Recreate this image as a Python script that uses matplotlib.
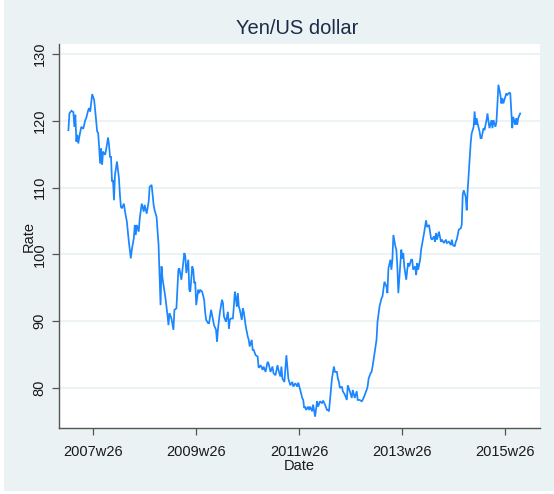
import matplotlib
matplotlib.use("Agg")
import matplotlib.pyplot as plt
from matplotlib.patches import Rectangle
import numpy as np

# Stata weekly dates (weeks since 1960w1) and yen per US dollar
weeks = [
    2444, 2445, 2447, 2449, 2450, 2451, 2452, 2453, 2454, 2455, 2457, 2459, 2461, 2462, 2464, 2465, 2466, 2468,
    2470, 2471, 2473, 2474, 2475, 2476, 2477, 2478, 2479, 2481, 2482, 2484, 2485, 2486, 2487, 2488, 2489, 2490,
    2491, 2493, 2495, 2496, 2497, 2498, 2500, 2501, 2503, 2505, 2507, 2508, 2510, 2511, 2512, 2513, 2515, 2516,
    2518, 2520, 2521, 2523, 2525, 2526, 2528, 2530, 2531, 2533, 2535, 2537, 2538, 2539, 2540, 2542, 2544,
    2545, 2546, 2548, 2550, 2551, 2553, 2555, 2556, 2558, 2561, 2562, 2563, 2565, 2566, 2567, 2569, 2570, 2571,
    2572, 2573, 2575, 2576, 2577, 2579, 2581, 2582, 2583, 2585, 2586, 2588, 2590, 2591, 2593, 2594, 2595, 2597,
    2599, 2600, 2601, 2603, 2605, 2606, 2607, 2608, 2610, 2611, 2612, 2613, 2614, 2615, 2616, 2617, 2619, 2620,
    2621, 2623, 2625, 2626, 2627, 2629, 2630, 2631, 2633, 2635, 2636, 2638, 2640, 2641, 2643, 2645,
    2646, 2648, 2650, 2651, 2653, 2655, 2656, 2658, 2659, 2660, 2662, 2664, 2665, 2666, 2668, 2670, 2671, 2673,
    2675, 2676, 2678, 2680, 2681, 2682, 2683, 2684, 2686, 2687, 2688, 2690, 2691, 2693, 2695, 2696, 2698, 2700,
    2701, 2703, 2705, 2706, 2707, 2709, 2710, 2712, 2713, 2715, 2716, 2717, 2718, 2720, 2721, 2723, 2725, 2726,
    2728, 2730, 2731, 2733, 2735, 2736, 2738, 2740, 2741, 2743, 2745, 2746, 2747, 2749, 2750, 2751, 2752, 2754,
    2755, 2756, 2758, 2760, 2761, 2763, 2765, 2766, 2767, 2769, 2770, 2771, 2772, 2774, 2775, 2776, 2777, 2779,
    2780, 2781, 2782, 2783, 2785, 2786, 2787, 2788, 2790, 2791, 2792, 2794, 2795, 2796, 2797, 2799, 2800, 2802,
    2803, 2805, 2806, 2808, 2810, 2811, 2813, 2814, 2815, 2816, 2818, 2820, 2821, 2823, 2825, 2826, 2828, 2830,
    2831, 2832, 2834, 2835, 2836, 2838, 2840, 2841, 2842, 2843, 2845, 2846, 2847, 2849, 2850, 2851, 2853, 2854,
    2855, 2856, 2857, 2859, 2860, 2861, 2863, 2864, 2866, 2867, 2868, 2869, 2871, 2872, 2873, 2875, 2876, 2877,
    2878, 2880, 2881, 2882, 2883, 2885, 2886, 2887, 2889, 2890, 2891, 2892, 2893, 2895, 2896, 2897, 2898, 2900,
]
rate = [
    118.6, 121.1, 121.5, 121.3, 119.1, 120.9, 116.9, 117.9, 116.6, 117.6, 119.1, 118.8, 120.1, 120.4, 121.6, 121.9, 121.4, 124.0,
    123.1, 121.6, 118.4, 118.2, 116.1, 113.6, 115.9, 113.4, 115.4, 114.9, 115.6, 117.5, 116.4, 114.6, 114.6, 110.9, 111.1, 108.1,
    111.9, 113.9, 111.4, 108.9, 107.1, 106.9, 107.6, 106.5, 104.9, 101.9, 99.4, 100.7, 102.4, 104.4, 102.9, 104.4, 103.4, 105.4,
    107.6, 106.4, 107.4, 106.1, 107.9, 110.1, 110.4, 107.4, 106.6, 105.6, 101.4, 92.4, 98.2, 96.4, 95.4, 93.4, 90.9,
    89.4, 91.2, 90.4, 88.7, 91.7, 91.9, 97.7, 97.9, 96.2, 100.2, 99.7, 97.2, 99.2, 94.7, 94.4, 98.2, 97.7, 95.7,
    95.9, 92.4, 94.7, 94.2, 94.7, 94.4, 93.2, 91.4, 90.2, 89.7, 89.7, 91.7, 90.2, 89.4, 88.7, 86.9, 88.9, 91.4,
    93.2, 92.7, 90.7, 89.9, 91.4, 88.9, 90.2, 90.4, 90.4, 92.2, 94.4, 93.4, 92.2, 94.2, 92.2, 91.7, 90.2, 91.9,
    91.4, 89.2, 87.7, 87.2, 86.2, 87.2, 85.7, 85.7, 84.9, 84.7, 83.0, 83.4, 82.7, 83.2, 82.4, 83.9,
    83.7, 82.4, 83.2, 82.2, 81.9, 83.4, 82.7, 81.7, 83.2, 81.4, 80.9, 84.9, 83.2, 81.4, 80.4, 80.9, 80.2, 80.7,
    80.2, 80.8, 79.7, 78.5, 78.2, 77.0, 77.2, 76.7, 77.2, 76.7, 77.2, 76.5, 77.5, 75.7, 78.0, 77.2, 78.0, 77.7,
    78.1, 77.5, 76.7, 76.7, 76.5, 79.7, 81.4, 83.2, 82.4, 82.4, 81.4, 80.9, 80.0, 80.2, 79.5, 79.0, 78.2, 80.4,
    79.5, 78.5, 79.7, 78.5, 79.5, 78.2, 78.2, 78.0, 78.2, 78.9, 79.7, 80.2, 81.4, 82.2, 82.4, 83.2, 84.2, 86.2,
    87.2, 89.9, 92.2, 93.4, 93.7, 95.9, 95.2, 94.2, 97.9, 99.2, 97.7, 99.2, 102.9, 101.2, 100.7, 98.2, 94.2, 98.7,
    100.7, 99.4, 100.2, 98.2, 96.2, 97.7, 98.7, 98.2, 99.2, 99.2, 97.7, 98.2, 96.9, 98.7, 97.7, 99.2, 100.7, 102.4,
    103.2, 105.1, 104.1, 104.4, 102.4, 102.2, 102.7, 101.9, 103.2, 102.2, 103.4, 101.9, 102.2, 101.7, 102.2, 101.7, 101.9, 101.4,
    102.2, 101.4, 101.2, 101.9, 102.2, 103.7, 103.9, 104.4, 108.9, 109.6, 108.6, 106.6, 109.6, 114.1, 116.6, 118.1, 119.1, 121.4,
    119.4, 120.4, 119.6, 118.4, 117.4, 117.4, 118.9, 118.6, 120.1, 121.1, 119.9, 118.9, 120.1, 118.9, 120.1, 119.1, 119.8, 122.4,
    125.4, 123.9, 122.6, 123.4, 122.6, 123.6, 124.1, 123.9, 124.2, 124.1, 121.6, 118.9, 120.6, 119.4, 120.4, 119.4, 120.4, 121.1,
]

y_ticks = [80, 90, 100, 110, 120, 130]
x_tick_weeks = [2469, 2573, 2677, 2781, 2885]
x_tick_labels = ["2007w26", "2009w26", "2011w26", "2013w26", "2015w26"]

BG = "#EAF2F3"
W, H = 554, 494
fig = plt.figure(figsize=(W / 100, H / 100), dpi=100, facecolor="white")
fig.patches.append(Rectangle((4 / W, 3 / H), 1 - 4 / W, 1 - 3 / H,
                             transform=fig.transFigure, facecolor=BG,
                             edgecolor="none", zorder=-10))

plt.rcParams["font.family"] = ["Liberation Sans", "DejaVu Sans"]

left, right, top, bottom = 59, 540, 44, 428
ax = fig.add_axes([left / W, 1 - bottom / H, (right - left) / W, (bottom - top) / H])
ax.set_facecolor("white")

ax.plot(weeks, rate, color="#1A86FF", lw=1.25, solid_joinstyle="miter")

ax.set_ylim(74.0, 131.5)
ax.set_xlim(2434.5, 2920)
ax.set_yticks(y_ticks)
ax.set_yticklabels([str(v) for v in y_ticks], rotation=90, va="center")
ax.set_xticks(x_tick_weeks)
ax.set_xticklabels(x_tick_labels)
ax.grid(axis="y", color=BG, lw=1.3)
ax.set_axisbelow(True)

for s in ["top", "right"]:
    ax.spines[s].set_visible(False)
for s in ["left", "bottom"]:
    ax.spines[s].set_color("#555555")
    ax.spines[s].set_linewidth(1.0)

ax.tick_params(axis="both", direction="out", length=5, width=0.9, color="#555555",
               labelsize=10.5, labelcolor="#1a1a1a")
ax.tick_params(axis="y", pad=4)
ax.tick_params(axis="x", pad=7)

ax.set_ylabel("Rate", fontsize=10.5, color="#1a1a1a", labelpad=-2)
ax.set_xlabel("Date", fontsize=10.5, color="#1a1a1a", labelpad=0)
fig.text(297 / W, 1 - 28 / H, "Yen/US dollar", ha="center", va="center",
         fontsize=14.5, color="#1E2A4A")

fig.savefig("out.png", dpi=100, facecolor="white")
